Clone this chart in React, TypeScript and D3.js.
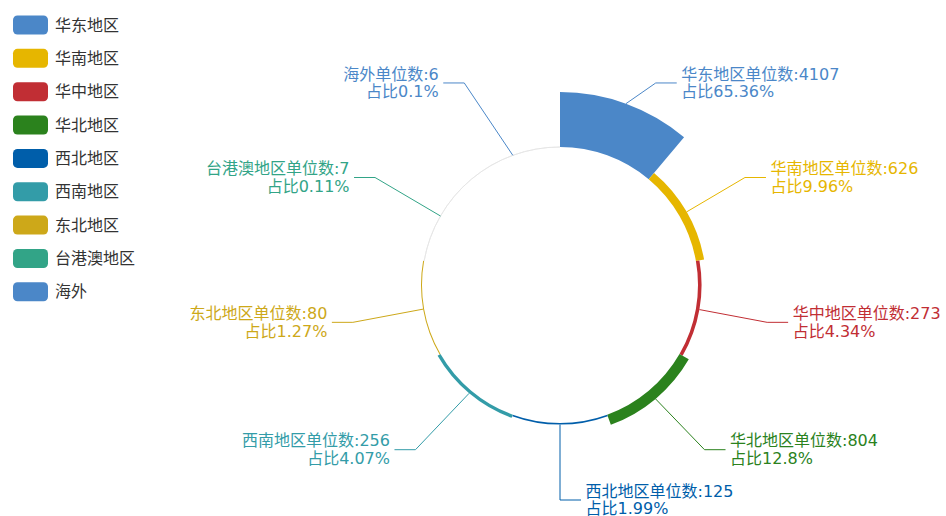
import React from 'react';
import * as d3 from 'd3';

const regions = ['华东地区', '华南地区', '华中地区', '华北地区', '西北地区', '西南地区', '东北地区', '台港澳地区', '海外'];
const counts = [4107, 626, 273, 804, 125, 256, 80, 7, 6];
const colors = ['#4b87c8', '#e6b600', '#c12e34', '#2b821d', '#005eaa', '#339ca8', '#cda819', '#32a487', '#4b87c8'];

const W = 946;
const H = 516;
const cx = 560;
const cy = 285;
const r0 = 138;
const rMax = 193;
const FONT = '"DejaVu Sans", "Noto Sans CJK SC", sans-serif';

// largest remainder percentages with 2 decimals
function percents(vals: number[], precision = 2): number[] {
  const total = d3.sum(vals);
  const digits = Math.pow(10, precision);
  const target = 100 * digits;
  const raw = vals.map((v) => (v / total) * target);
  const seats = raw.map((v) => Math.floor(v));
  let sum = d3.sum(seats);
  const rem = raw.map((v, i) => v - seats[i]);
  while (sum < target) {
    let best = -1;
    let idx = -1;
    rem.forEach((r, i) => {
      if (r > best) {
        best = r;
        idx = i;
      }
    });
    seats[idx] += 1;
    rem[idx] = 0;
    sum += 1;
  }
  return seats.map((s) => s / digits);
}

export default function App() {
  const pcts = percents(counts);
  const pie = d3
    .pie<number>()
    .sort(null)
    .value(() => 1)
    .startAngle(0)
    .endAngle(Math.PI * 2);
  const arcsData = pie(counts);
  const rScale = d3
    .scaleLinear()
    .domain(d3.extent(counts) as [number, number])
    .range([r0, rMax]);
  const arcGen = d3.arc<d3.PieArcDatum<number>>().innerRadius(r0).outerRadius((d) => rScale(d.data));
  const thinArc = d3.arc<d3.PieArcDatum<number>>().innerRadius(r0).outerRadius(r0);

  const bendR = 215;
  const rA = 210;
  const rB = 227;
  const len2 = 21;

  return (
    <svg width={W} height={H} style={{ position: 'absolute', left: 0, top: 0, background: '#fff' }}>
      {/* legend */}
      <g>
        {regions.map((name, i) => {
          const y = 25 + i * 33.35;
          return (
            <g key={name}>
              <rect x={13} y={y - 9.5} width={35} height={19} rx={4.5} fill={colors[i]} />
              <text x={55} y={y} dominantBaseline="central" fontSize={16} fill="#333" fontFamily={FONT}>
                {name}
              </text>
            </g>
          );
        })}
      </g>
      {/* sectors */}
      <g transform={`translate(${cx},${cy})`}>
        {arcsData.map((d, i) => {
          const thick = rScale(d.data) - r0;
          return thick < 0.6 ? (
            <path key={i} d={thinArc(d) || ''} fill="none" stroke="#e4e4e4" strokeWidth={0.8} />
          ) : (
            <path key={i} d={arcGen(d) || ''} fill={colors[i]} />
          );
        })}
      </g>
      {/* labels */}
      <g>
        {arcsData.map((d, i) => {
          const mid = (d.startAngle + d.endAngle) / 2;
          const s = Math.sin(mid);
          const c = Math.cos(mid);
          const r = rScale(d.data);
          const x0 = cx + r * s;
          const y0 = cy - r * c;
          const by = cy - bendR * c;
          const dy = Math.abs(by - cy);
          const dir = s >= -1e-9 ? 1 : -1;
          const dx = Math.abs(s) < 1e-6 ? 0 : rA * Math.sqrt(Math.max(0, 1 - (dy / rB) * (dy / rB)));
          const bx = cx + dir * dx;
          const ex = bx + dir * len2;
          const tx = ex + dir * 4.5;
          const anchor = dir > 0 ? 'start' : 'end';
          return (
            <g key={i}>
              <polyline
                points={`${x0},${y0} ${bx},${by} ${ex},${by}`}
                fill="none"
                stroke={colors[i]}
                strokeWidth={1}
              />
              <text
                x={tx}
                y={by - 8.75}
                dominantBaseline="central"
                textAnchor={anchor}
                fontSize={16}
                fill={colors[i]}
                fontFamily={FONT}
              >
                {`${regions[i]}单位数:${counts[i]}`}
              </text>
              <text
                x={tx}
                y={by + 8.75}
                dominantBaseline="central"
                textAnchor={anchor}
                fontSize={16}
                fill={colors[i]}
                fontFamily={FONT}
              >
                {`占比${pcts[i]}%`}
              </text>
            </g>
          );
        })}
      </g>
    </svg>
  );
}
